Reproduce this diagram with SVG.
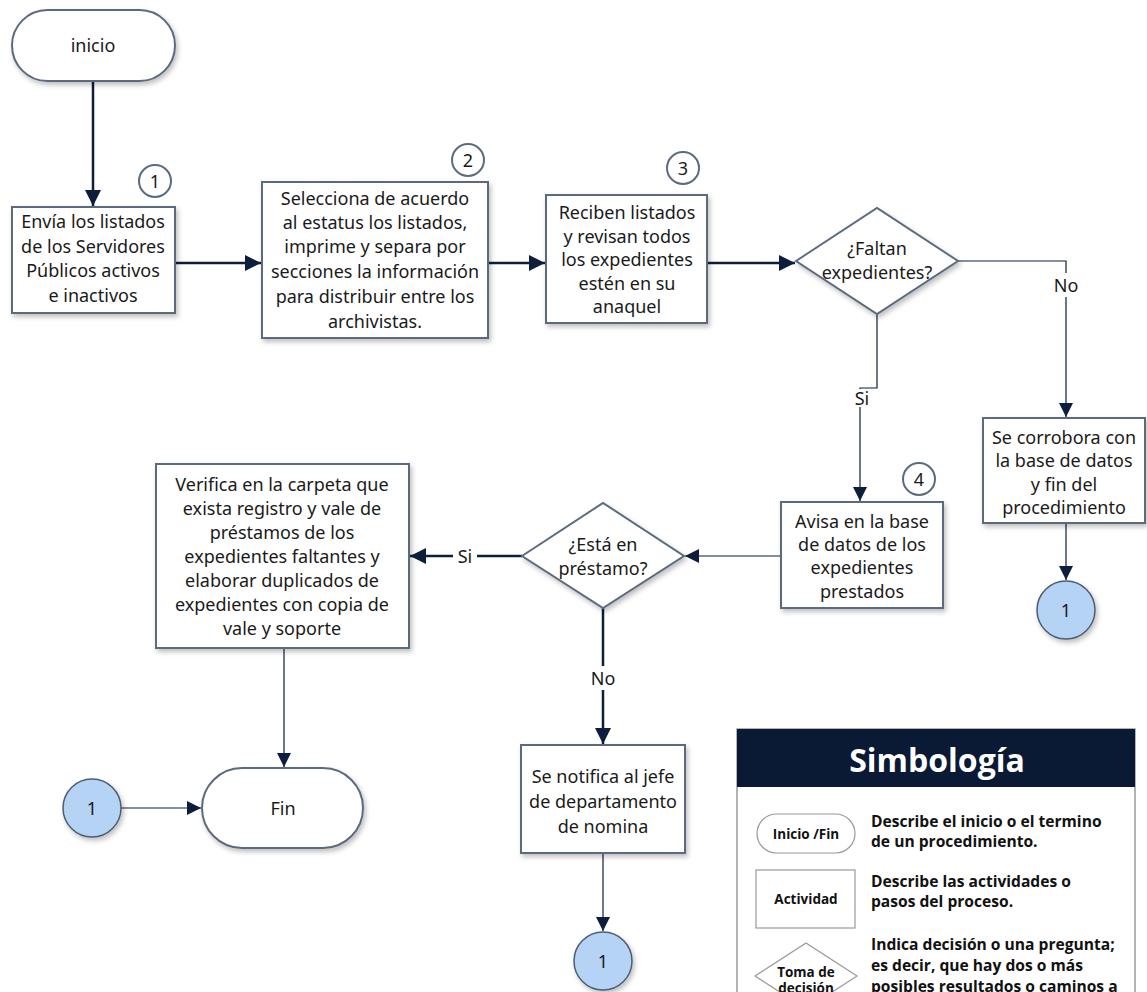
<svg xmlns="http://www.w3.org/2000/svg" width="1147" height="992" viewBox="0 0 1147 992">
<style>
.node{fill:#fff;stroke:#5b6b7f;stroke-width:2}
.t{font-family:"Noto Sans","Open Sans",sans-serif;font-size:18px;fill:#1a1a1a;text-anchor:middle;dominant-baseline:central}
.num{fill:#fff;stroke:#5b6b7f;stroke-width:2}
.con{fill:#b5d3f5;stroke:#4d5d72;stroke-width:1.5}
.thick{fill:none;stroke:#0c1e3c;stroke-width:2.5}
.thin{fill:none;stroke:#0c1e3c;stroke-width:1.2}
.lbl{font-family:"Noto Sans","Open Sans",sans-serif;font-size:18px;fill:#1a1a1a;text-anchor:middle;dominant-baseline:central}
.lg{font-family:"Open Sans","Noto Sans",sans-serif;font-weight:bold;fill:#111;font-size:15.6px}
.lgs{font-family:"Open Sans","Noto Sans",sans-serif;font-weight:bold;fill:#111;font-size:13.5px;text-anchor:middle;dominant-baseline:central}
</style>
<defs>
<marker id="ah" viewBox="0 0 10 10" refX="10" refY="5" markerWidth="14" markerHeight="14" markerUnits="userSpaceOnUse" orient="auto"><path d="M0,0L10,5L0,10z" fill="#0c1e3c"/></marker>
<marker id="ahb" viewBox="0 0 10 10" refX="10" refY="5" markerWidth="16" markerHeight="16" markerUnits="userSpaceOnUse" orient="auto"><path d="M0,0L10,5L0,10z" fill="#0c1e3c"/></marker>
<filter id="sh" x="-10%" y="-10%" width="130%" height="130%"><feDropShadow dx="2" dy="3" stdDeviation="2.5" flood-color="#000" flood-opacity="0.25"/></filter>
</defs>

<g id="connectors">
<path class="thick" d="M93,81V206" marker-end="url(#ahb)"/>
<path class="thick" d="M175,263H261" marker-end="url(#ahb)"/>
<path class="thick" d="M488,263H545" marker-end="url(#ahb)"/>
<path class="thick" d="M707,263H795" marker-end="url(#ahb)"/>
<path class="thin" d="M958,261H1066V417" marker-end="url(#ah)"/>
<path class="thin" d="M1066,523V580" marker-end="url(#ah)"/>
<path class="thin" d="M877,314V388H860V501" marker-end="url(#ah)"/>
<path class="thin" d="M781,556H685" marker-end="url(#ah)"/>
<path class="thick" d="M522,556H410" marker-end="url(#ahb)"/>
<path class="thin" d="M284,648V767" marker-end="url(#ah)"/>
<path class="thin" d="M121,808H201" marker-end="url(#ah)"/>
<path class="thick" d="M603,608V744" marker-end="url(#ahb)"/>
<path class="thin" d="M603,853V931" marker-end="url(#ah)"/>
<rect x="1051" y="273" width="30" height="24" fill="#fff"/>
<text class="lbl" x="1066" y="285">No</text>
<rect x="850" y="389" width="24" height="18" fill="#fff"/>
<text class="lbl" x="862" y="398">Si</text>
<rect x="453" y="544" width="24" height="24" fill="#fff"/>
<text class="lbl" x="465" y="556">Si</text>
<rect x="587" y="666" width="32" height="24" fill="#fff"/>
<text class="lbl" x="603" y="678">No</text>
</g>

<g id="inicio">
<rect class="node" x="12" y="10" width="163" height="71" rx="35.5" filter="url(#sh)"/>
<text class="t" x="93" y="45">inicio</text>
</g>

<g id="step1">
<rect class="node" x="12" y="207" width="163" height="106" filter="url(#sh)"/>
<text class="t" x="93" y="221">Envía los listados</text>
<text class="t" x="93" y="246">de los Servidores</text>
<text class="t" x="93" y="270">Públicos activos</text>
<text class="t" x="93" y="295">e inactivos</text>
<circle class="num" cx="155" cy="181" r="16"/>
<text class="t" x="155" y="181">1</text>
</g>

<g id="step2">
<rect class="node" x="262" y="182" width="226" height="156" filter="url(#sh)"/>
<text class="t" x="375" y="198">Selecciona de acuerdo</text>
<text class="t" x="375" y="222">al estatus los listados,</text>
<text class="t" x="375" y="246">imprime y separa por</text>
<text class="t" x="375" y="271">secciones la información</text>
<text class="t" x="375" y="296">para distribuir entre los</text>
<text class="t" x="375" y="321">archivistas.</text>
<circle class="num" cx="468" cy="160" r="16"/>
<text class="t" x="468" y="160">2</text>
</g>

<g id="step3">
<rect class="node" x="546" y="195" width="161" height="128" filter="url(#sh)"/>
<text class="t" x="627" y="212">Reciben listados</text>
<text class="t" x="627" y="236">y revisan todos</text>
<text class="t" x="627" y="259">los expedientes</text>
<text class="t" x="627" y="283">estén en su</text>
<text class="t" x="627" y="306">anaquel</text>
<circle class="num" cx="683" cy="168" r="16"/>
<text class="t" x="683" y="168">3</text>
</g>

<g id="decision1">
<path class="node" d="M796,261L877,208L958,261L877,314z" filter="url(#sh)"/>
<text class="t" x="877" y="248">¿Faltan</text>
<text class="t" x="877" y="272">expedientes?</text>
</g>

<g id="corrobora">
<rect class="node" x="983" y="418" width="162" height="105" filter="url(#sh)"/>
<text class="t" x="1064" y="437">Se corrobora con</text>
<text class="t" x="1064" y="460">la base de datos</text>
<text class="t" x="1064" y="484">y fin del</text>
<text class="t" x="1064" y="507">procedimiento</text>
</g>

<g id="conn-a">
<circle class="con" cx="1066" cy="610" r="29" filter="url(#sh)"/>
<text class="t" x="1066" y="610">1</text>
</g>

<g id="step4">
<rect class="node" x="781" y="502" width="162" height="106" filter="url(#sh)"/>
<text class="t" x="862" y="521">Avisa en la base</text>
<text class="t" x="862" y="544">de datos de los</text>
<text class="t" x="862" y="567">expedientes</text>
<text class="t" x="862" y="591">prestados</text>
<circle class="num" cx="919" cy="479" r="16"/>
<text class="t" x="919" y="479">4</text>
</g>

<g id="decision2">
<path class="node" d="M522,556L603,503L684,556L603,608z" filter="url(#sh)"/>
<text class="t" x="603" y="544">¿Está en</text>
<text class="t" x="603" y="568">préstamo?</text>
</g>

<g id="verifica">
<rect class="node" x="156" y="464" width="253" height="184" filter="url(#sh)"/>
<text class="t" x="282" y="484">Verifica en la carpeta que</text>
<text class="t" x="282" y="508">exista registro y vale de</text>
<text class="t" x="282" y="532">préstamos de los</text>
<text class="t" x="282" y="556">expedientes faltantes y</text>
<text class="t" x="282" y="580">elaborar duplicados de</text>
<text class="t" x="282" y="604">expedientes con copia de</text>
<text class="t" x="282" y="628">vale y soporte</text>
</g>

<g id="fin">
<rect class="node" x="202" y="768" width="161" height="80" rx="40" filter="url(#sh)"/>
<text class="t" x="283" y="808">Fin</text>
</g>

<g id="conn-b">
<circle class="con" cx="92" cy="808" r="29" filter="url(#sh)"/>
<text class="t" x="92" y="808">1</text>
</g>

<g id="notifica">
<rect class="node" x="521" y="745" width="164" height="108" filter="url(#sh)"/>
<text class="t" x="603" y="776">Se notifica al jefe</text>
<text class="t" x="603" y="801">de departamento</text>
<text class="t" x="603" y="826">de nomina</text>
</g>

<g id="conn-c">
<circle class="con" cx="603" cy="961" r="29" filter="url(#sh)"/>
<text class="t" x="603" y="961">1</text>
</g>

<g id="legend">
<rect x="737" y="729" width="398" height="280" fill="#fff" stroke="#9a9a9a" stroke-width="1.5"/>
<rect x="737" y="729" width="398" height="58" fill="#0a1a35"/>
<text x="937" y="759" font-family="Open Sans,Noto Sans,sans-serif" font-weight="bold" font-size="32" fill="#fff" text-anchor="middle" dominant-baseline="central">Simbología</text>
<rect x="757" y="814" width="98" height="39" rx="19.5" fill="#fff" stroke="#999" stroke-width="1.2"/>
<text class="lgs" x="806" y="834">Inicio /Fin</text>
<text class="lg" x="871" y="827">Describe el inicio o el termino</text>
<text class="lg" x="871" y="847">de un procedimiento.</text>
<rect x="756" y="870" width="99" height="58" fill="#fff" stroke="#999" stroke-width="1.2"/>
<text class="lgs" x="806" y="899">Actividad</text>
<text class="lg" x="871" y="887">Describe las actividades o</text>
<text class="lg" x="871" y="907">pasos del proceso.</text>
<path d="M755,976L806,943L857,976L806,1009z" fill="#fff" stroke="#999" stroke-width="1.2"/>
<text class="lgs" x="806" y="972">Toma de</text>
<text class="lgs" x="806" y="988">decisión</text>
<text class="lg" x="871" y="950">Indica decisión o una pregunta;</text>
<text class="lg" x="871" y="971">es decir, que hay dos o más</text>
<text class="lg" x="871" y="992">posibles resultados o caminos a</text>
</g>
</svg>
